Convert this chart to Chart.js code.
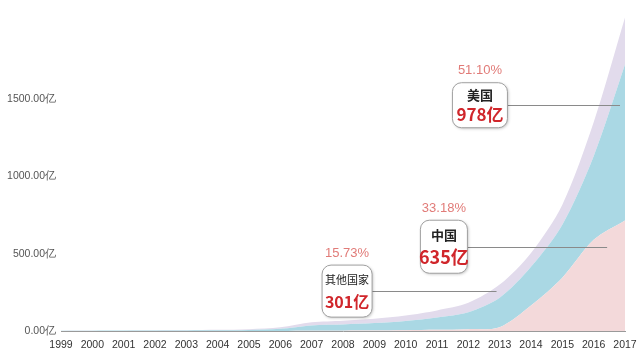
<!DOCTYPE html>
<html>
<head>
<meta charset="utf-8">
<script src="https://cdn.jsdelivr.net/npm/chart.js@4.4.1/dist/chart.umd.min.js"></script>
<style>
  body { margin: 0; background: #fff; }
  #caja { width: 640px; height: 351px; position: relative; }
</style>
</head>
<body>
<div id="caja"><canvas id="areaChart"></canvas></div>
<script>
// datos (en 亿)
const anios = ['1999','2000','2001','2002','2003','2004','2005','2006','2007','2008','2009','2010','2011','2012','2013','2014','2015','2016','2017'];
const china = [0, 0, 0, 0, 0, 0, 0, 0, 1, 2, 3, 5, 8, 12, 25, 165, 345, 590, 715];
const eeuu = [1, 2, 3, 3, 4, 5, 7, 14, 35, 40, 48, 60, 80, 110, 190, 250, 342, 540, 1008];
const otros = [1, 1, 1, 2, 2, 3, 5, 10, 20, 25, 28, 35, 45, 60, 85, 90, 130, 220, 304];
const ticksY = [0, 500, 1000, 1500];

// etiquetas de 2017
const paises = ['美国', '中国', '其他国家'];
const montos = [978, 635, 301];
const porcentajes = [51.10, 33.18, 15.73];

// donde va cada cuadro (indice de año y valor del eje y)
const notas = [
    { i: 0, cx: 13.37, cy: 1460, fin: 17.84, w: 55, h: 45, fTitulo: 'bold 13px', fMonto: 'bold 17px' },
    { i: 1, cx: 12.22, cy: 545, fin: 17.43, w: 47, h: 53, fTitulo: 'bold 13px', fMonto: 'bold 18px' },
    { i: 2, cx: 9.13, cy: 258, fin: 13.9, w: 50, h: 52, fTitulo: '11px', fMonto: 'bold 16px' }
];

const cuadros = {
    id: 'cuadros',
    afterDatasetsDraw(chart) {
        const ctx = chart.ctx;
        const x = chart.scales.x;
        const y = chart.scales.y;
        notas.forEach(n => {
            const cx = x.getPixelForValue(n.cx);
            const cy = y.getPixelForValue(n.cy);
            const xf = x.getPixelForValue(n.fin);
            ctx.save();
            // linea
            ctx.strokeStyle = '#8a8a8a';
            ctx.lineWidth = 1;
            ctx.beginPath();
            ctx.moveTo(cx + n.w / 2, Math.round(cy) + 0.5);
            ctx.lineTo(xf, Math.round(cy) + 0.5);
            ctx.stroke();
            // cuadro redondeado
            ctx.shadowColor = 'rgba(0,0,0,0.25)';
            ctx.shadowBlur = 3;
            ctx.shadowOffsetX = 1;
            ctx.shadowOffsetY = 1;
            ctx.fillStyle = '#fff';
            ctx.strokeStyle = '#a0a0a0';
            ctx.beginPath();
            ctx.roundRect(cx - n.w / 2, cy - n.h / 2, n.w, n.h, 9);
            ctx.fill();
            ctx.shadowColor = 'transparent';
            ctx.stroke();
            // textos
            ctx.textAlign = 'center';
            ctx.textBaseline = 'middle';
            ctx.fillStyle = '#222';
            ctx.font = n.fTitulo + ' "Noto Sans CJK SC", sans-serif';
            ctx.fillText(paises[n.i], cx, cy - n.h * 0.22);
            ctx.fillStyle = '#d0262b';
            ctx.font = n.fMonto + ' "Noto Sans CJK SC", sans-serif';
            ctx.fillText(montos[n.i] + '亿', cx, cy + n.h * 0.2);
            ctx.fillStyle = '#e17b78';
            ctx.font = '13px "Liberation Sans", Arial, sans-serif';
            ctx.fillText(porcentajes[n.i].toFixed(2) + '%', cx, cy - n.h / 2 - 12);
            ctx.restore();
        });
    }
};

const config = {
    type: 'line',
    data: {
        labels: anios,
        datasets: [
            { label: '中国', data: china, backgroundColor: 'rgb(243,217,218)', fill: 'origin' },
            { label: '美国', data: eeuu, backgroundColor: 'rgb(170,216,228)', fill: '-1' },
            { label: '其他国家', data: otros, backgroundColor: 'rgb(226,219,236)', fill: '-1' }
        ]
    },
    options: {
        responsive: true,
        maintainAspectRatio: false,
        animation: false,
        layout: { padding: { top: 14, right: 15, bottom: 0, left: 0 } },
        elements: {
            point: { radius: 0 },
            line: { borderWidth: 0, tension: 0.3 }
        },
        plugins: {
            legend: { display: false },
            tooltip: { enabled: false }
        },
        scales: {
            x: {
                offset: false,
                grid: { display: false, drawTicks: false },
                border: { color: '#9a9a9a' },
                ticks: {
                    autoSkip: false,
                    maxRotation: 0,
                    padding: 8,
                    color: '#333',
                    font: { size: 10.5, family: '"Liberation Sans", Arial, sans-serif' }
                },
                afterFit(s) {
                    s.height = 20;
                    s.paddingLeft = 0;
                    s.paddingRight = 0;
                }
            },
            y: {
                stacked: true,
                min: 0,
                max: 2050,
                grid: { display: false, drawTicks: false },
                border: { display: false },
                afterBuildTicks(s) { s.ticks = ticksY.map(v => ({ value: v })); },
                ticks: {
                    padding: 5,
                    color: '#555',
                    font: { size: 10.5, family: '"Liberation Sans", Arial, sans-serif' },
                    callback: v => v.toFixed(2) + '亿'
                },
                afterFit(s) { s.width = 61; }
            }
        }
    },
    plugins: [cuadros]
};

new Chart(document.getElementById('areaChart').getContext('2d'), config);
</script>
</body>
</html>
